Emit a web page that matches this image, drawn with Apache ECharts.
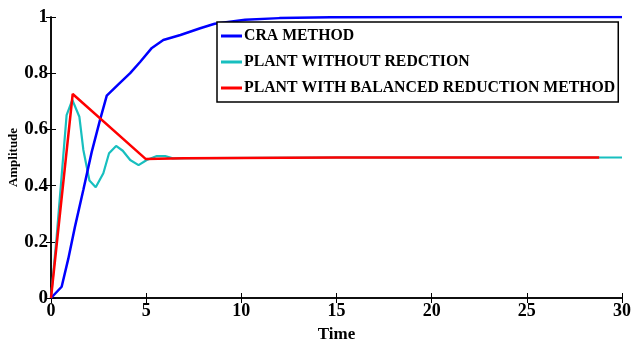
<!DOCTYPE html>
<html>
<head>
<meta charset="utf-8">
<script src="https://cdn.jsdelivr.net/npm/echarts@6/dist/echarts.min.js"></script>
<style>
  html, body { margin: 0; padding: 0; background: #fff; }
  #chart { width: 633px; height: 342px; }
</style>
</head>
<body>
<div id="chart"></div>
<script>
// step responses: [time, amplitude]
const craMethod = [
  [0, 0], [0.56, 0.04], [0.91, 0.14], [1.26, 0.254], [1.7, 0.385], [2.14, 0.52],
  [2.58, 0.635], [2.93, 0.72], [3.54, 0.76], [4.16, 0.8], [4.68, 0.84], [5.3, 0.89],
  [5.9, 0.918], [6.8, 0.936], [7.84, 0.96], [8.6, 0.976], [10.2, 0.99], [12, 0.996],
  [14.7, 0.999], [20, 1], [25, 1], [30, 1]
]
const plantFull = [
  [0, 0], [0.3, 0.22], [0.82, 0.651], [1.12, 0.705], [1.49, 0.645], [1.7, 0.527],
  [2.02, 0.418], [2.35, 0.394], [2.75, 0.444], [3.05, 0.515], [3.42, 0.541],
  [3.77, 0.524], [4.16, 0.491], [4.6, 0.473], [5.03, 0.491], [5.56, 0.505],
  [6.0, 0.505], [6.4, 0.497], [8, 0.498], [15, 0.5], [30, 0.5]
]
const plantBalanced = [
  [0, 0], [1.14, 0.726], [4.97, 0.495], [7, 0.497], [15, 0.5], [28.8, 0.5]
]
const seriesNames = ['CRA METHOD', 'PLANT WITHOUT REDCTION', 'PLANT WITH BALANCED REDUCTION METHOD']
const seriesColors = ['#0000ff', '#17bfbf', '#ff0000']
const yTicks = [0, 0.2, 0.4, 0.6, 0.8, 1]

const chart = echarts.init(document.getElementById('chart'))
const fontFamily = '"Liberation Serif", "DejaVu Serif", serif'

const axisLine = { show: true, lineStyle: { color: '#000', width: 1.5 } }
const tick = { show: true, inside: true, length: 5, lineStyle: { color: '#000', width: 1 } }

const option = {
  animation: false,
  textStyle: { fontFamily },
  grid: { left: 51, right: 11, top: 17, bottom: 44, outerBoundsMode: 'none', containLabel: false },
  legend: {
    orient: 'vertical',
    left: 217,
    top: 22,
    backgroundColor: '#fff',
    borderColor: '#000',
    borderWidth: 1.5,
    padding: [6, 3, 6, 4],
    itemWidth: 21,
    itemHeight: 3,
    itemGap: 10,
    icon: 'rect',
    textStyle: { fontFamily, fontWeight: 'bold', fontSize: 15.8, color: '#000', padding: [0, 0, 0, -3] },
    data: seriesNames
  },
  xAxis: [
    {
      type: 'value', min: 0, max: 30, interval: 5,
      name: 'Time', nameLocation: 'middle', nameGap: 28, nameMoveOverlap: false,
      nameTextStyle: { fontFamily, fontWeight: 'bold', fontSize: 17, color: '#000' },
      axisLine, axisTick: tick, splitLine: { show: false },
      axisLabel: { fontFamily, fontWeight: 'bold', fontSize: 18, color: '#000', margin: 4 }
    },
    {
      type: 'value', min: 0, max: 30, interval: 5, position: 'top',
      axisLine, axisTick: tick, splitLine: { show: false }, axisLabel: { show: false }
    }
  ],
  yAxis: [
    {
      type: 'value', min: 0, max: 1, interval: 0.2,
      name: 'Amplitude', nameLocation: 'middle', nameGap: 31, nameMoveOverlap: false,
      nameTextStyle: { fontFamily, fontWeight: 'bold', fontSize: 13, color: '#000' },
      axisLine, axisTick: tick, splitLine: { show: false },
      axisLabel: {
        fontFamily, fontWeight: 'bold', fontSize: 19, color: '#000', margin: 3,
        formatter: v => (yTicks.includes(Math.round(v * 10) / 10) ? String(Math.round(v * 10) / 10) : '')
      }
    },
    {
      type: 'value', min: 0, max: 1, interval: 0.2, position: 'right',
      axisLine, axisTick: tick, splitLine: { show: false }, axisLabel: { show: false }
    }
  ],
  series: [
    { name: seriesNames[0], type: 'line', data: craMethod, showSymbol: false, z: 3,
      lineStyle: { color: seriesColors[0], width: 2.5 }, itemStyle: { color: seriesColors[0] } },
    { name: seriesNames[1], type: 'line', data: plantFull, showSymbol: false, z: 2,
      lineStyle: { color: seriesColors[1], width: 2.2 }, itemStyle: { color: seriesColors[1] } },
    { name: seriesNames[2], type: 'line', data: plantBalanced, showSymbol: false, z: 4,
      lineStyle: { color: seriesColors[2], width: 2.5 }, itemStyle: { color: seriesColors[2] } }
  ]
}

chart.setOption(option)
</script>
</body>
</html>
